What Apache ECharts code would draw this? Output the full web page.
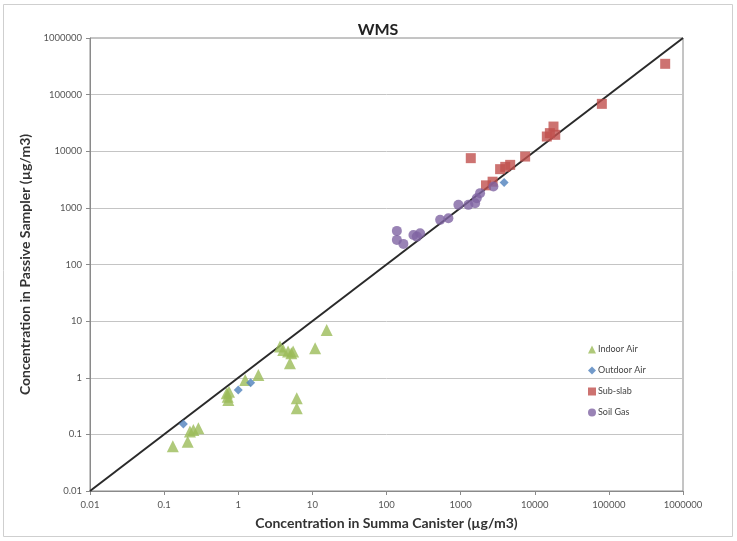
<!DOCTYPE html>
<html>
<head>
<meta charset="utf-8">
<script src="https://cdn.jsdelivr.net/npm/echarts@6/dist/echarts.min.js"></script>
<style>
html,body{margin:0;padding:0;background:#fff;}
#c{width:737px;height:541px;}
</style>
</head>
<body>
<div id="c"></div>
<script>
var tickLabels = ['0.01','0.1','1','10','100','1000','10000','100000','1000000'];
var seriesNames = ['Indoor Air','Outdoor Air','Sub-slab','Soil Gas'];

var indoorX = [0.131,0.208,0.248,0.29,0.223,0.735,0.70,0.75,0.72,1.24,1.87,3.66,4.05,4.7,5.2,4.98,5.5,6.15,6.15,10.9,15.6];
var indoorY = [0.062,0.074,0.12,0.128,0.112,0.405,0.53,0.568,0.46,0.915,1.12,3.55,3.1,2.9,2.7,1.8,2.9,0.435,0.289,3.32,7.0];

var outdoorX = [0.182,1.0,1.47,3860];
var outdoorY = [0.153,0.608,0.82,2800];

var subslabX = [1371,2200,2700,3410,4000,4660,7420,14550,16000,18900,17900,80400,575000];
var subslabY = [7550,2500,2900,4830,5300,5750,8060,18200,20900,19500,27300,68700,350000];

var soilX = [138,138,169,231,284,257,529,684,933,1274,1570,1650,1830,2770];
var soilY = [392,272,231,333,357,311,614,658,1130,1130,1210,1480,1820,2380];

var lineX = [0.01,1000000];
var lineY = [0.01,1000000];

function pairs(xs, ys){ return xs.map(function(x,i){ return [x, ys[i]]; }); }
function fmt(v){
  var i = Math.round(Math.log(v)/Math.LN10) + 2;
  return tickLabels[i] !== undefined ? tickLabels[i] : '';
}

var chart = echarts.init(document.getElementById('c'), null, {renderer:'canvas'});
var font = 'Lato, "Open Sans", "Liberation Sans", sans-serif';
chart.setOption({
  backgroundColor:'#fff',
  animation:false,
  textStyle:{fontFamily:font},
  title:{text:'WMS', left:373, textAlign:'center', top:17,
    textStyle:{fontSize:16, fontWeight:'bold', color:'#222', fontFamily:font}},
  graphic:[{type:'rect', shape:{x:3.5,y:4.5,width:729,height:532}, style:{fill:'none', stroke:'#cfcfcf', lineWidth:1}, silent:true}],
  grid:{left:90, right:54, top:38, bottom:50, show:true, borderColor:'#8a8a8a', borderWidth:1, backgroundColor:'transparent'},
  legend:{
    data:[{name:'Indoor Air', icon:'triangle'},{name:'Outdoor Air', icon:'diamond'},{name:'Sub-slab', icon:'rect'},{name:'Soil Gas', icon:'circle'}],
    orient:'vertical', left:583, top:340, itemWidth:8, itemHeight:8, itemGap:12,
    textStyle:{fontSize:9, color:'#444', fontFamily:font, padding:[0,0,0,-3]}
  },
  xAxis:{
    type:'log', logBase:10, min:0.01, max:1000000,
    name:'Concentration in Summa Canister (µg/m3)', nameLocation:'middle', nameGap:25,
    nameTextStyle:{fontSize:14, fontWeight:'bold', color:'#333', fontFamily:font},
    axisLine:{lineStyle:{color:'#8a8a8a', width:1}},
    axisTick:{show:true, length:4, lineStyle:{color:'#8a8a8a'}},
    minorTick:{show:false},
    splitLine:{show:false},
    axisLabel:{fontSize:9.5, color:'#555', margin:9, formatter:fmt, fontFamily:font}
  },
  yAxis:{
    type:'log', logBase:10, min:0.01, max:1000000,
    name:'Concentration in Passive Sampler (µg/m3)', nameLocation:'middle', nameGap:58, nameRotate:90,
    nameTextStyle:{fontSize:14, fontWeight:'bold', color:'#333', fontFamily:font},
    axisLine:{lineStyle:{color:'#8a8a8a', width:1}},
    axisTick:{show:true, length:4, lineStyle:{color:'#8a8a8a'}},
    splitLine:{show:true, lineStyle:{color:'#c4c4c4', width:1}},
    axisLabel:{fontSize:9.5, color:'#555', margin:8, formatter:fmt, fontFamily:font}
  },
  series:[
    {type:'line', name:'1:1', data:pairs(lineX,lineY), showSymbol:false, symbol:'none',
     lineStyle:{color:'#2a2a2a', width:2}, z:1, silent:true},
    {type:'scatter', name:'Indoor Air', data:pairs(indoorX,indoorY), symbol:'triangle', symbolSize:12,
     itemStyle:{color:'#9bbb59'}, z:3},
    {type:'scatter', name:'Outdoor Air', data:pairs(outdoorX,outdoorY), symbol:'diamond', symbolSize:9,
     itemStyle:{color:'#4f81bd'}, z:4},
    {type:'scatter', name:'Sub-slab', data:pairs(subslabX,subslabY), symbol:'rect', symbolSize:10,
     itemStyle:{color:'#c0504d'}, z:3},
    {type:'scatter', name:'Soil Gas', data:pairs(soilX,soilY), symbol:'circle', symbolSize:10,
     itemStyle:{color:'#8064a2'}, z:3}
  ]
});
</script>
</body>
</html>
